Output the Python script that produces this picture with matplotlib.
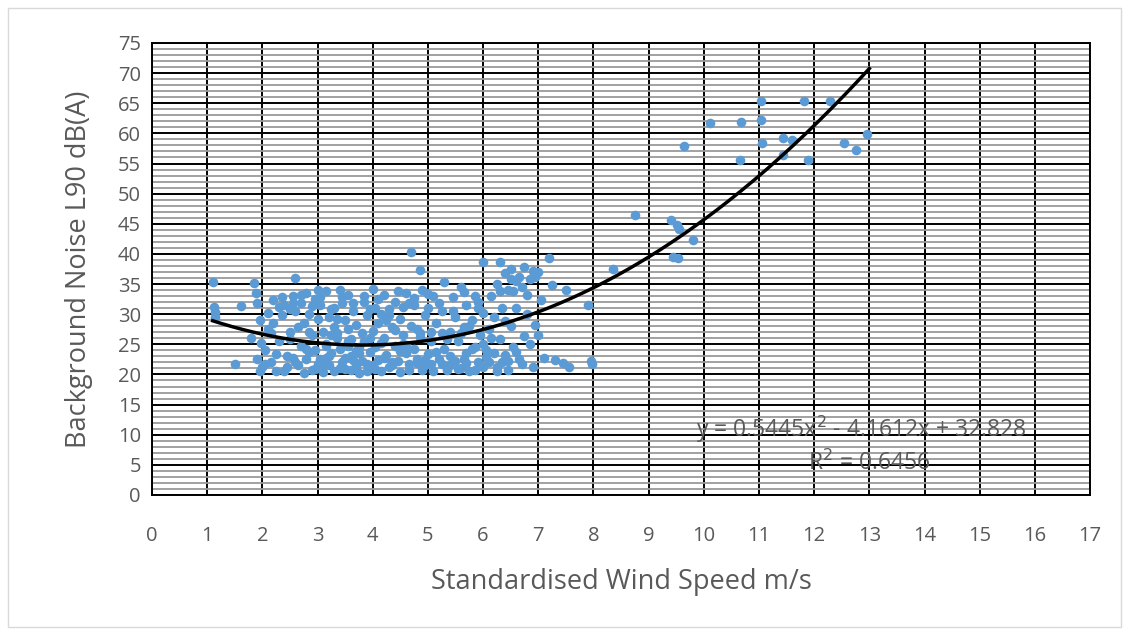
import numpy as np
import matplotlib.pyplot as plt
from matplotlib.patches import Rectangle
from matplotlib.ticker import MultipleLocator

wind = [
    1.1, 1.12, 1.15, 1.15, 1.5, 1.62, 1.85, 1.88, 1.9, 1.8, 1.95, 1.9, 1.95, 2.0, 2.05, 2.1, 2.1, 1.98, 2.15,
    2.2, 2.25, 2.3, 2.35, 2.4, 2.45, 2.5, 2.55, 2.6, 2.6, 2.65, 2.7, 2.7, 2.75, 2.8, 2.8, 2.85, 2.9, 2.9, 2.95,
    2.95, 3.0, 3.0, 3.0, 2.55, 2.4, 2.75, 2.85, 2.65, 2.5, 2.3, 2.2,
    3.05, 3.05, 3.1, 3.1, 3.15, 3.15, 3.2, 3.2, 3.25, 3.3, 3.3, 3.3, 3.35, 3.4, 3.4, 3.45, 3.5, 3.5, 3.55, 3.55,
    3.6, 3.6, 3.65, 3.7, 3.7, 3.75, 3.8, 3.8, 3.85, 3.9, 3.9, 3.95, 4.0, 4.0, 4.0, 3.35, 3.45, 3.25, 3.65, 3.75,
    3.85, 3.15, 3.55, 3.95,
    4.05, 4.05, 4.1, 4.1, 4.15, 4.2, 4.2, 4.25, 4.3, 4.3, 4.35, 4.4, 4.4, 4.45, 4.5, 4.5, 4.55, 4.6, 4.6, 4.65,
    4.7, 4.7, 4.75, 4.75, 4.8, 4.85, 4.85, 4.9, 4.9, 4.95, 5.0, 5.0, 4.15, 4.35, 4.55, 4.65, 4.25, 4.45, 4.95, 4.8,
    5.05, 5.05, 5.1, 5.15, 5.2, 5.25, 5.3, 5.3, 5.35, 5.4, 5.45, 5.5, 5.5, 5.55, 5.6, 5.6, 5.65, 5.7, 5.7, 5.75,
    5.8, 5.85, 5.9, 5.9, 5.95, 6.0, 6.0, 6.0, 5.15, 5.4, 5.65, 5.85, 5.25, 5.75,
    6.05, 6.1, 6.1, 6.15, 6.2, 6.25, 6.25, 6.3, 6.3, 6.35, 6.4, 6.4, 6.45, 6.45, 6.5, 6.5, 6.55, 6.6, 6.6, 6.65,
    6.65, 6.7, 6.75, 6.75, 6.8, 6.85, 6.9, 6.9, 6.95, 6.95, 7.0, 7.0, 6.2, 6.55, 6.35, 6.8, 6.15, 6.7,
    7.1, 7.2, 7.25, 7.45, 7.5, 7.55, 7.9, 7.95, 7.97, 7.3,
    # extra points in the dense band
    2.05, 2.25, 2.45, 2.6, 2.8, 2.95, 3.1, 3.2, 3.4, 3.5, 3.6, 3.75, 3.9, 4.05, 4.2, 4.35, 4.5, 4.65, 4.8, 4.95,
    5.1, 5.25, 5.4, 5.55, 5.7, 5.85, 6.05, 6.25, 6.45, 6.6,
    2.35, 2.55, 2.7, 2.9, 3.05, 3.25, 3.45, 3.65, 3.85, 4.1, 4.3, 4.55, 4.75, 5.0, 5.2, 5.45, 5.65, 5.9, 6.3, 6.5,
    2.15, 2.5, 2.85, 3.15, 3.35, 3.55, 3.7, 3.95, 4.15, 4.4, 4.6, 4.85, 5.05, 5.35, 5.6, 5.8, 6.0, 6.4, 6.85, 7.05,
    8.35, 8.75, 9.41, 9.51, 9.55, 9.8, 9.44, 9.53, 9.65,
    10.11, 10.68, 10.65, 11.03, 11.03, 11.05, 11.43, 11.59, 11.43, 11.89, 11.81, 12.28, 12.55, 12.75, 12.95,
]
noise = [
    35.3, 31.2, 30.4, 29.6, 21.8, 31.3, 35.2, 33.5, 31.8, 26.0, 29.0, 22.5, 20.5, 21.2, 24.0, 27.5, 30.2, 25.2, 22.0,
    32.3, 20.6, 25.5, 29.8, 31.5, 23.0, 27.0, 33.0, 36.0, 30.5, 21.5, 24.8, 31.8, 28.5, 33.5, 22.5, 30.0, 26.5, 20.8, 32.5,
    24.0, 34.0, 29.2, 21.8, 22.8, 20.5, 20.3, 23.8, 27.8, 30.8, 31.2, 28.5,
    31.5, 22.6, 27.0, 20.4, 33.8, 25.0, 29.5, 21.5, 23.5, 31.0, 27.8, 20.6, 26.0, 34.0, 24.2, 22.0, 29.0, 20.9, 27.5, 33.2,
    25.8, 23.0, 30.5, 21.4, 28.2, 24.5, 26.8, 22.3, 32.0, 20.5, 29.8, 23.8, 34.2, 27.2, 21.6, 29.2, 31.8, 26.5, 22.4, 20.3,
    25.5, 22.8, 24.8, 30.8,
    31.0, 24.5, 22.4, 28.5, 20.6, 33.2, 26.0, 23.2, 30.8, 21.3, 27.8, 24.8, 32.0, 22.2, 29.2, 20.4, 26.5, 33.5, 23.6, 21.8,
    40.3, 28.0, 31.5, 24.2, 22.6, 37.4, 26.8, 34.0, 20.8, 29.8, 23.4, 31.0, 30.0, 22.0, 25.0, 31.8, 29.0, 33.8, 21.5, 27.5,
    25.5, 21.8, 33.0, 28.5, 22.6, 30.5, 35.3, 24.2, 20.7, 27.0, 32.8, 22.2, 29.5, 25.5, 34.5, 21.0, 27.8, 31.5, 23.6, 20.5,
    29.0, 24.6, 32.0, 22.0, 26.5, 38.7, 30.2, 21.2, 23.8, 21.5, 22.5, 33.0, 26.8, 28.0,
    24.0, 27.5, 22.0, 33.0, 29.5, 35.0, 21.3, 38.6, 25.8, 31.0, 36.8, 23.2, 34.0, 20.7, 37.5, 28.0, 33.8, 35.5, 31.0, 36.2,
    22.5, 34.5, 37.8, 26.3, 33.2, 35.8, 37.2, 21.3, 28.2, 36.2, 37.0, 26.5, 23.5, 24.5, 22.0, 30.0, 26.0, 21.8,
    22.7, 39.3, 34.8, 21.9, 34.0, 21.3, 31.5, 22.3, 21.8, 22.4,
    21.8, 23.4, 21.2, 22.0, 24.2, 20.9, 21.9, 23.0, 21.1, 22.7, 20.8, 23.5, 21.7, 20.9, 22.8, 21.5, 23.9, 20.7, 21.9, 22.4,
    20.6, 21.7, 23.1, 20.9, 21.9, 20.7, 22.9, 20.6, 22.2, 23.8,
    32.9, 31.9, 33.2, 31.3, 32.8, 30.9, 32.9, 31.8, 33.0, 32.6, 29.9, 31.2, 32.7, 33.3, 31.8, 30.6, 33.6, 31.0, 33.8, 35.8,
    26.8, 25.9, 27.0, 24.7, 26.9, 25.6, 23.9, 26.1, 25.3, 27.3, 24.9, 26.2, 27.1, 25.8, 26.9, 24.2, 25.1, 28.8, 25.0, 32.4,
    37.5, 46.5, 45.7, 44.8, 44.2, 42.3, 39.5, 39.3, 57.9,
    61.7, 61.9, 55.6, 65.3, 62.3, 58.4, 59.2, 58.9, 56.4, 55.6, 65.4, 65.4, 58.4, 57.2, 59.9,
]

# polynomial trendline shown on the chart (highest power first)
trend_coef = [0.5445, -4.1612, 32.828]
trend_range = [1.1, 13.0]
eq_text = "y = 0.5445x$^2$ - 4.1612x + 32.828"
r2_text = "R$^2$ = 0.6456"

grey = "#595959"
plt.rcParams['font.family'] = ['Open Sans', 'DejaVu Sans']

fig = plt.figure(figsize=(11.29, 6.35), dpi=100)
ax = fig.add_axes([0.1346, 0.2205, 0.8309, 0.7118])

# chart area border
fig.patches.append(Rectangle((0.007, 0.012), 0.986, 0.976, transform=fig.transFigure,
                             fill=False, edgecolor="#d9d9d9", lw=1))

ax.set_xlim(0, 17)
ax.set_ylim(0, 75)
ax.xaxis.set_major_locator(MultipleLocator(1))
ax.yaxis.set_major_locator(MultipleLocator(5))
ax.yaxis.set_minor_locator(MultipleLocator(1))

ax.grid(True, which='minor', axis='y', color='#9a9a9a', lw=1.3)
ax.grid(True, which='major', axis='both', color='black', lw=1.4)
ax.set_axisbelow(True)
for s in ax.spines.values():
    s.set_color('black')
    s.set_linewidth(1.4)

ax.tick_params(axis='both', which='both', length=0, labelsize=14.5, labelcolor=grey)
ax.tick_params(axis='x', pad=22)
ax.tick_params(axis='y', pad=8)

ax.scatter(wind, noise, s=48, color='#5b9bd5', marker='o', lw=0, zorder=3)

xt = np.linspace(trend_range[0], trend_range[1], 200)
ax.plot(xt, np.polyval(trend_coef, xt), color='black', lw=2.5, zorder=4)

ax.text(12.85, 10.8, eq_text, ha='center', va='center', fontsize=16.5, color=grey, zorder=5)
ax.text(13.0, 5.2, r2_text, ha='center', va='center', fontsize=16.5, color=grey, zorder=5)

ax.set_xlabel("Standardised Wind Speed m/s", fontsize=19.5, color=grey, labelpad=16)
ax.set_ylabel("Background Noise L90 dB(A)", fontsize=19.5, color=grey, labelpad=18)

fig.savefig("out.png", dpi=100)
